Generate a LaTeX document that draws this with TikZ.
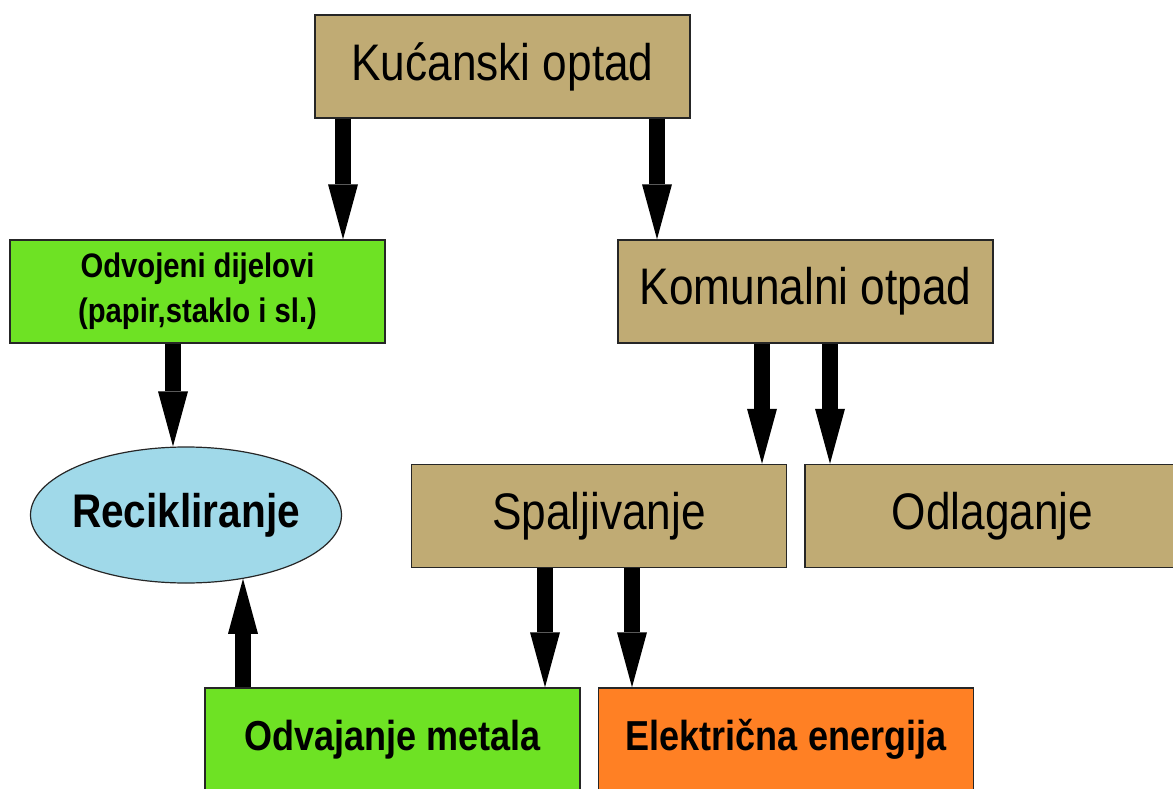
\documentclass[tikz,border=0pt]{standalone}
\usepackage{fontspec}
\setmainfont[FakeStretch=0.86]{Liberation Sans}
\usetikzlibrary{shapes.geometric, arrows.meta, positioning}
\usepackage{xcolor}
\definecolor{wastetan}{RGB}{192, 171, 116}
\definecolor{sortgreen}{RGB}{110, 226, 36}
\definecolor{recblue}{RGB}{160, 217, 233}
\definecolor{powerorange}{RGB}{255, 128, 36}

\begin{document}
\begin{tikzpicture}[x=1pt, y=1pt,
    box/.style={rectangle, draw=black!85, line width=1.5pt, minimum width=375pt, minimum height=103pt, inner sep=0pt, align=center},
    bigtext/.style={font=\fontsize{51.4}{56}\selectfont},
    boldtext/.style={font=\bfseries\fontsize{41.9}{46}\selectfont},
    arrow/.style={-{Triangle[width=30pt, length=55pt, line width=0pt]}, line width=16pt}
]
\clip (0,0) rectangle (1173,-789);

\node[box, fill=wastetan, bigtext] (kucanski) at (502.5,-66.5) {Kućanski optad};
\node[box, fill=sortgreen, font=\bfseries\fontsize{34}{45}\selectfont] (odvojeni) at (197.5,-291.5) {Odvojeni dijelovi\\(papir,staklo i sl.)};
\node[box, fill=wastetan, bigtext] (komunalni) at (805.5,-291.5) {Komunalni otpad};
\node[ellipse, draw=black!85, line width=1.2pt, fill=recblue, minimum width=311pt, minimum height=136pt, inner xsep=-10pt, inner ysep=0pt, font=\bfseries\fontsize{47.2}{52}\selectfont] (recikliranje) at (186,-515) {Recikliranje};
\node[box, fill=wastetan, bigtext] (spaljivanje) at (599,-516) {Spaljivanje};
\node[box, fill=wastetan, bigtext, right=17pt of spaljivanje] (odlaganje) {Odlaganje};
\node[box, fill=sortgreen, boldtext] (odvajanje) at (392.5,-739.5) {Odvajanje metala};
\node[box, fill=powerorange, boldtext, right=17pt of odvajanje] (elektricna) {Električna energija};

\draw[arrow] ([xshift=-159.5pt]kucanski.south) -- ([xshift=-159.5pt]kucanski.south |- odvojeni.north);
\draw[arrow] ([xshift=154.5pt]kucanski.south) -- ([xshift=154.5pt]kucanski.south |- komunalni.north);
\draw[arrow] ([xshift=-24.5pt]odvojeni.south) -- ([xshift=-24.5pt]odvojeni.south |- recikliranje.north);
\draw[arrow] ([xshift=-43.5pt]komunalni.south) -- ([xshift=-43.5pt]komunalni.south |- spaljivanje.north);
\draw[arrow] ([xshift=24.5pt]komunalni.south) -- ([xshift=24.5pt]komunalni.south |- odlaganje.north);
\draw[arrow] ([xshift=-54pt]spaljivanje.south) -- ([xshift=-54pt]spaljivanje.south |- odvajanje.north);
\draw[arrow] ([xshift=33pt]spaljivanje.south) -- ([xshift=33pt]spaljivanje.south |- elektricna.north);
\draw[arrow] ([xshift=-149.5pt]odvajanje.north) -- ([xshift=-149.5pt]odvajanje.north |- recikliranje.-48);

\end{tikzpicture}
\end{document}
